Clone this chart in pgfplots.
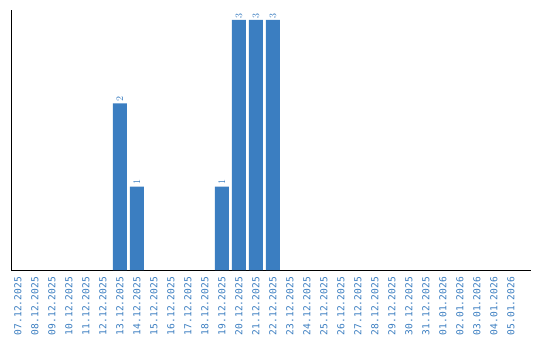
\documentclass[border=0pt]{standalone}
\usepackage{pgfplots}
\pgfplotsset{compat=1.18}
\usepackage{fontspec}
\setmainfont{DejaVu Sans Mono}
\definecolor{barblue}{RGB}{59,126,193}
\definecolor{lblblue}{RGB}{58,125,192}
\begin{document}
\begin{tikzpicture}
\useasboundingbox (-11pt,-70pt) rectangle (529pt,270pt);
\begin{axis}[
  at={(0,0)}, anchor=south west,
  scale only axis,
  width=520pt, height=260pt,
  xmin=-0.41, xmax=30.18,
  ymin=0, ymax=3.12,
  axis x line=bottom, axis y line=left,
  axis line style={-, line width=0.9pt, black},
  ytick=\empty,
  xtick={0,...,29},
  xticklabels={07.12.2025,08.12.2025,09.12.2025,10.12.2025,11.12.2025,12.12.2025,13.12.2025,14.12.2025,15.12.2025,16.12.2025,17.12.2025,18.12.2025,19.12.2025,20.12.2025,21.12.2025,22.12.2025,23.12.2025,24.12.2025,25.12.2025,26.12.2025,27.12.2025,28.12.2025,29.12.2025,30.12.2025,31.12.2025,01.01.2026,02.01.2026,03.01.2026,04.01.2026,05.01.2026},
  xticklabel style={rotate=90, anchor=east, font=\fontsize{9.6}{10}\selectfont, text=lblblue, inner sep=0pt, xshift=-7pt},
  major tick length=0pt,
  ybar, bar width=14pt, bar shift=0pt,
  nodes near coords,
  every node near coord/.append style={rotate=90, anchor=west, font=\fontsize{10}{10}\selectfont, text=lblblue, inner sep=1.5pt},
]
\addplot[fill=barblue, draw=none] coordinates {(6,2) (7,1) (12,1) (13,3) (14,3) (15,3)};
\end{axis}
\end{tikzpicture}
\end{document}
